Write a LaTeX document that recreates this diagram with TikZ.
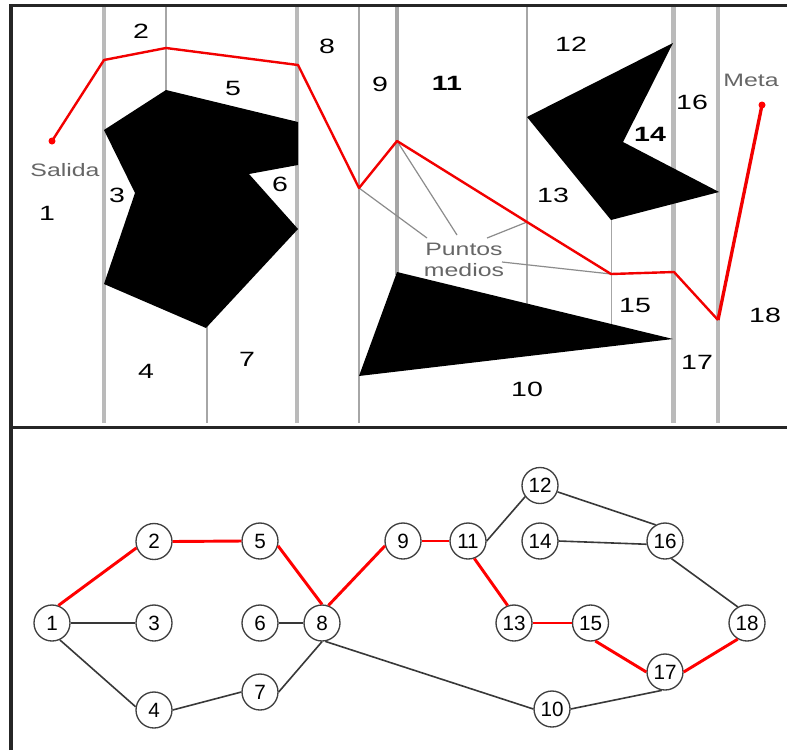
\documentclass[tikz,border=0pt]{standalone}
\usepackage{fontspec}
\setmainfont{Liberation Sans}
\newfontfamily\widefont[FakeStretch=1.38]{Liberation Sans}
\tikzset{
  wall/.style={draw=black!35,line width=1.7pt},
  thickwall/.style={draw=black!27,line width=3.5pt},
  obstacle/.style={fill=black,draw=none},
  route/.style={draw=red!95!black,line width=1.8pt,line join=round},
  hint/.style={draw=black!45,line width=0.9pt},
  frameline/.style={draw=black!85,line width=2.4pt},
  lbl/.style={font=\widefont\fontsize{15.5}{17}\selectfont,inner sep=0pt},
  blbl/.style={font=\widefont\fontsize{15.5}{17}\selectfont\bfseries,inner sep=0pt},
  glbl/.style={font=\widefont\fontsize{13.5}{15.7}\selectfont,text=black!60,inner sep=0pt,align=center},
  gn/.style={circle,draw=black!75,fill=white,line width=1pt,minimum width=27pt,inner sep=0pt,font=\fontsize{15.5}{17}\selectfont},
  edge/.style={draw=black!78,line width=1.2pt},
  redge/.style={draw=red,line width=2.2pt},
}
\begin{document}
\begin{tikzpicture}[x=0.75pt,y=-0.75pt]
\useasboundingbox (0,0) rectangle (787,750);
\fill[white] (0,0) rectangle (787,750);
% walls
\foreach \x in {104,297,673.5,718}{\draw[thickwall] (\x,7) -- (\x,423);}
\draw[wall] (166,7) -- (166,92);
\draw[wall] (207,326) -- (207,423);
\draw[wall] (359,7) -- (359,423);
\draw[wall,line width=2.4pt] (397,7) -- (397,275);
\draw[wall] (527,7) -- (527,305);
\draw[wall,line width=1.4pt] (611.5,218) -- (611.5,324);
% obstacles
\fill[obstacle] (104,130) -- (166,90) -- (298,122) -- (298,165) -- (249,174) -- (298,229) -- (206,328) -- (104,284) -- (135,193) -- cycle;
\fill[obstacle] (527,117) -- (673,43) -- (623,142) -- (719,192) -- (611,220) -- cycle;
\fill[obstacle] (397,272) -- (673,339) -- (359,376) -- cycle;
% hints
\coordinate (m9) at (359,188);
\coordinate (m11) at (397,141);
\coordinate (m13) at (527,222);
\coordinate (m15) at (611,274);
\node[glbl] (pm) at (464,259.5) {Puntos\\medios};
\coordinate (h9) at (427,238);
\coordinate (h11) at (457,235);
\coordinate (h13) at (487,238);
\coordinate (h15) at (502,262);
\draw[hint] (m9) -- (h9);
\draw[hint] (m11) -- (h11);
\draw[hint] (m13) -- (h13);
\draw[hint] (m15) -- (h15);
% route
\coordinate (s) at (52,141);
\coordinate (e) at (762,105);
\draw[route] (s) -- (104,60) -- (166,48) -- (298,65) -- (m9) -- (m11) -- (m13) -- (m15) -- (674,272) -- (718,320);
\draw[route,line width=2.5pt] (718,320) -- (e);
\fill[red] (s) circle (3.5);
\fill[red] (e) circle (3.5);
\node[glbl] (salida) at (65,170) {Salida};
\node[glbl] (meta) at (751,80) {Meta};
% region labels
\node[lbl] (r1) at (47,213) {1};
\node[lbl] (r2) at (141,31) {2};
\node[lbl] (r3) at (117,195) {3};
\node[lbl] (r4) at (146,371) {4};
\node[lbl] (r5) at (233,88) {5};
\node[lbl] (r6) at (280,184) {6};
\node[lbl] (r7) at (247,359) {7};
\node[lbl] (r8) at (327,46) {8};
\node[lbl] (r9) at (380,84) {9};
\node[lbl] (r10) at (527,389) {10};
\node[blbl] (r11) at (447,83) {11};
\node[lbl] (r12) at (571,44) {12};
\node[lbl] (r13) at (553,195) {13};
\node[blbl] (r14) at (650,134) {14};
\node[lbl] (r15) at (635,305) {15};
\node[lbl] (r16) at (692,102) {16};
\node[lbl] (r17) at (697,362) {17};
\node[lbl] (r18) at (765,315) {18};
% frame
\draw[frameline] (11,750) -- (11,5.5) -- (787,5.5);
\draw[frameline] (11,427.5) -- (787,427.5);
% graph
\node[gn] (n1) at (52,623) {1};
\node[gn] (n2) at (154,541.5) {2};
\node[gn] (n3) at (154,623) {3};
\node[gn] (n4) at (154,710) {4};
\node[gn] (n5) at (260,541) {5};
\node[gn] (n6) at (260,623) {6};
\node[gn] (n7) at (260,692) {7};
\node[gn] (n8) at (322,623) {8};
\node[gn] (n9) at (403,541) {9};
\node[gn] (n10) at (552,709) {10};
\node[gn] (n11) at (468,541) {11};
\node[gn] (n12) at (540,485.5) {12};
\node[gn] (n13) at (514,623) {13};
\node[gn] (n14) at (540,541) {14};
\node[gn] (n15) at (590.5,623) {15};
\node[gn] (n16) at (665,541) {16};
\node[gn] (n17) at (665,672) {17};
\node[gn] (n18) at (747,623) {18};
\foreach \a/\b in {n1.east/n3.west,n1.-65/n4.170,n4.east/n7.west,n7.east/n8.south,n6.east/n8.west,n8.-80/n10.west,n10.east/n17.-100,n11.east/n12.-143,n12.-20/n16.120,n14.east/n16.190,n16.-70/n18.120}{\draw[edge] (\a) -- (\b);}
\foreach \a/\b in {n1.70/n2.200,n2.east/n5.west,n5.-15/n8.north,n8.70/n9.195,n9.east/n11.west,n11.-70/n13.110,n13.east/n15.west,n15.-75/n17.west,n17.east/n18.-120}{\draw[redge] (\a) -- (\b);}
\end{tikzpicture}
\end{document}
